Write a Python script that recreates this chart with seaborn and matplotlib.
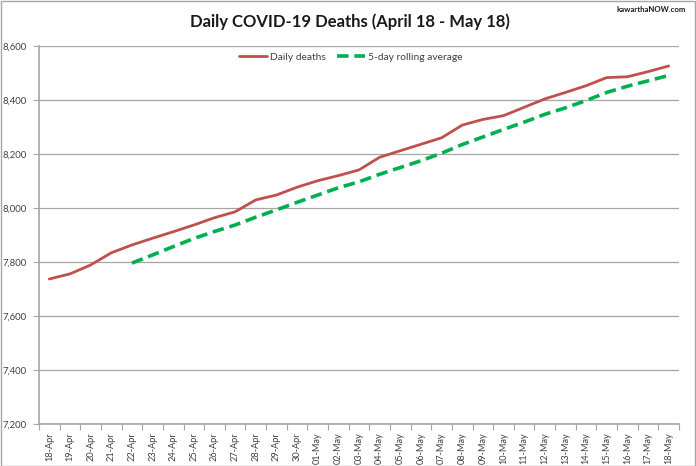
import matplotlib
matplotlib.use("Agg")
import matplotlib.pyplot as plt
import matplotlib.ticker as mticker
from matplotlib.patches import Rectangle
import seaborn as sns
import pandas as pd

dates = ["18-Apr", "19-Apr", "20-Apr", "21-Apr", "22-Apr", "23-Apr", "24-Apr", "25-Apr",
         "26-Apr", "27-Apr", "28-Apr", "29-Apr", "30-Apr", "01-May", "02-May", "03-May",
         "04-May", "05-May", "06-May", "07-May", "08-May", "09-May", "10-May", "11-May",
         "12-May", "13-May", "14-May", "15-May", "16-May", "17-May", "18-May"]
daily_deaths = [7737, 7756, 7789, 7834, 7863, 7888, 7912, 7937, 7964, 7986, 8030, 8048,
                8077, 8101, 8120, 8141, 8188, 8212, 8236, 8260, 8307, 8328, 8342, 8373,
                8404, 8428, 8453, 8483, 8486, 8505, 8526]
avg_dates = dates[4:]
rolling_avg = [7796, 7826, 7857, 7887, 7913, 7937, 7966, 7993, 8021, 8048, 8075, 8097,
               8125, 8150, 8175, 8203, 8235, 8263, 8291, 8318, 8347, 8371, 8398, 8428,
               8451, 8471, 8491]
yticks = [7200, 7400, 7600, 7800, 8000, 8200, 8400, 8600]

sns.set_theme(style="white")
plt.rcParams['font.family'] = ['Lato', 'DejaVu Sans']

W, H = 696, 466
fig = plt.figure(figsize=(W / 100, H / 100), dpi=100)
fig.patch.set_facecolor("white")
fig.patches.append(Rectangle((0.5 / W, 0.5 / H), 1 - 1.5 / W, 1 - 1.5 / H,
                             transform=fig.transFigure, fill=False,
                             edgecolor="#a6a6a6", linewidth=1.0))

L, R, T, B = 39, 679, 46, 424
ax = fig.add_axes([L / W, (H - B) / H, (R - L) / W, (B - T) / H])

pos = {d: i for i, d in enumerate(dates)}
df1 = pd.DataFrame({"x": [pos[d] for d in dates], "y": daily_deaths})
df2 = pd.DataFrame({"x": [pos[d] for d in avg_dates], "y": rolling_avg})

sns.lineplot(data=df1, x="x", y="y", ax=ax, color="#C0504D", linewidth=2.0,
             label="Daily deaths")
sns.lineplot(data=df2, x="x", y="y", ax=ax, color="#00B050", linewidth=2.6,
             label="5-day rolling average", dashes=False, linestyle=(0, (3.2, 1.6)))

ax.set_xlim(-0.5, len(dates) - 0.5)
ax.set_ylim(7200, 8600)
ax.set_yticks(yticks)
ax.yaxis.set_major_formatter(mticker.FuncFormatter(lambda v, p: f"{int(v):,}"))
ax.set_xticks(range(len(dates)))
ax.set_xticklabels(dates, rotation=90, fontsize=6.6, color="#404040")
ax.set_xticks([i - 0.5 for i in range(len(dates) + 1)], minor=True)
ax.tick_params(axis="x", which="major", length=0, pad=6)
ax.tick_params(axis="x", which="minor", length=4, width=0.8, color="#a6a6a6",
               direction="out", bottom=True)
ax.tick_params(axis="y", which="major", length=4, width=0.8, color="#a6a6a6",
               direction="out", left=True, labelsize=6.8, labelcolor="#404040", pad=5)
ax.set_xlabel("")
ax.set_ylabel("")
ax.grid(axis="y", color="#a6a6a6", linewidth=0.9)
ax.grid(axis="x", visible=False)
ax.set_axisbelow(True)
for s in ["top", "right"]:
    ax.spines[s].set_visible(False)
for s in ["left", "bottom"]:
    ax.spines[s].set_color("#a6a6a6")
    ax.spines[s].set_linewidth(1.2)

leg = ax.legend(loc="upper center", bbox_to_anchor=(0.487, 1.0), ncol=2, frameon=False,
                fontsize=7.4, handlelength=2.7, handletextpad=0.3, columnspacing=1.1,
                borderaxespad=0.25)
for t in leg.get_texts():
    t.set_color("#404040")

fig.text(350 / W, 1 - 22 / H, "Daily COVID-19 Deaths (April 18 - May 18)",
         ha="center", va="center", fontsize=12.0, fontweight="bold", color="#1a1a1a")
fig.text(686 / W, 1 - 10 / H, "kawarthaNOW.com", ha="right", va="center",
         fontsize=5.6, fontweight="bold", color="#1a1a1a")

fig.savefig("out.png", dpi=100, facecolor="white")
